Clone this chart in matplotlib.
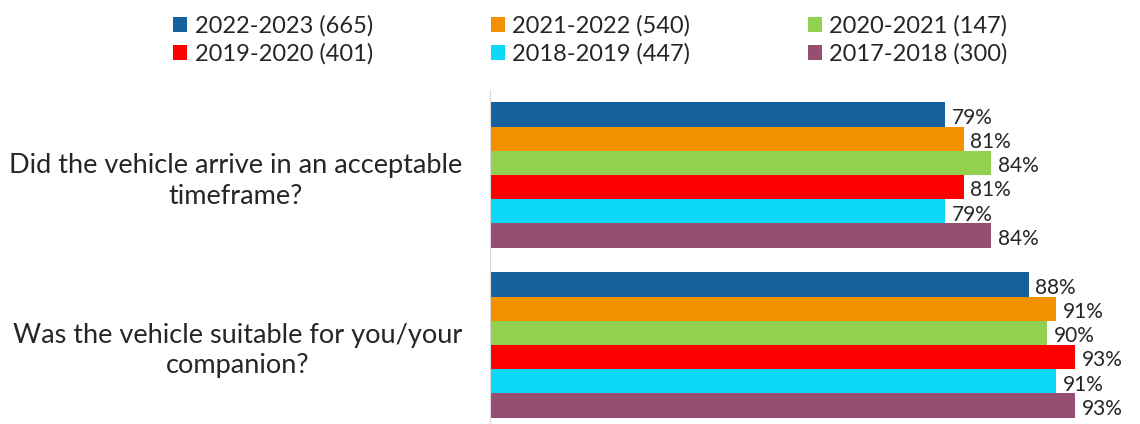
import numpy as np
import matplotlib.pyplot as plt

plt.rcParams['font.family'] = ['Lato', 'DejaVu Sans']

questions = ["Did the vehicle arrive in an acceptable\ntimeframe?",
             "Was the vehicle suitable for you/your\ncompanion?"]
series = ["2022-2023 (665)", "2021-2022 (540)", "2020-2021 (147)",
          "2019-2020 (401)", "2018-2019 (447)", "2017-2018 (300)"]
colors = ["#17609e", "#f29100", "#92d050", "#ff0000", "#0dd8f5", "#954f72"]
values = [
    [79, 88],
    [81, 91],
    [84, 90],
    [81, 93],
    [79, 91],
    [84, 93],
]

fig = plt.figure(figsize=(11.4, 4.24), dpi=100)
# axes box in pixels: left 490, top 90, width 650, height 340
ax = fig.add_axes([490 / 1140, (424 - 430) / 424, 650 / 1140, 340 / 424])

n = len(series)
bh = 0.853 / n
y = np.arange(len(questions))
handles = []
for j, (name, col, vals) in enumerate(zip(series, colors, values)):
    pos = y - 0.853 / 2 + bh / 2 + j * bh
    b = ax.barh(pos, vals, height=bh, color=col, left=0, label=name)
    handles.append(b)
    for p, v in zip(pos, vals):
        ax.text(v + 0.7, p + 0.02, f"{v}%", va='center', ha='left',
                fontsize=15, color='#262626')

ax.set_xlim(30, 100)
ax.set_ylim(-0.5, len(questions) - 0.5)
ax.invert_yaxis()
ax.set_yticks(y)
ax.set_yticklabels(questions, fontsize=19.5, color='#262626',
                   multialignment='center', linespacing=1.3)
ax.tick_params(axis='y', length=0, pad=20)
ax.set_xticks([])
for s in ['top', 'right', 'bottom']:
    ax.spines[s].set_visible(False)
ax.spines['left'].set_color('#d9d9d9')

order = [0, 3, 1, 4, 2, 5]
leg = fig.legend([handles[i] for i in order], [series[i] for i in order],
                 ncol=3, loc='upper center', bbox_to_anchor=(0.518, 1.015),
                 frameon=False, fontsize=17, handlelength=0.6,
                 handleheight=0.6, handletextpad=0.3, columnspacing=5.0,
                 labelspacing=0.3)
for t in leg.get_texts():
    t.set_color('#262626')

fig.savefig("out.png", dpi=100)
